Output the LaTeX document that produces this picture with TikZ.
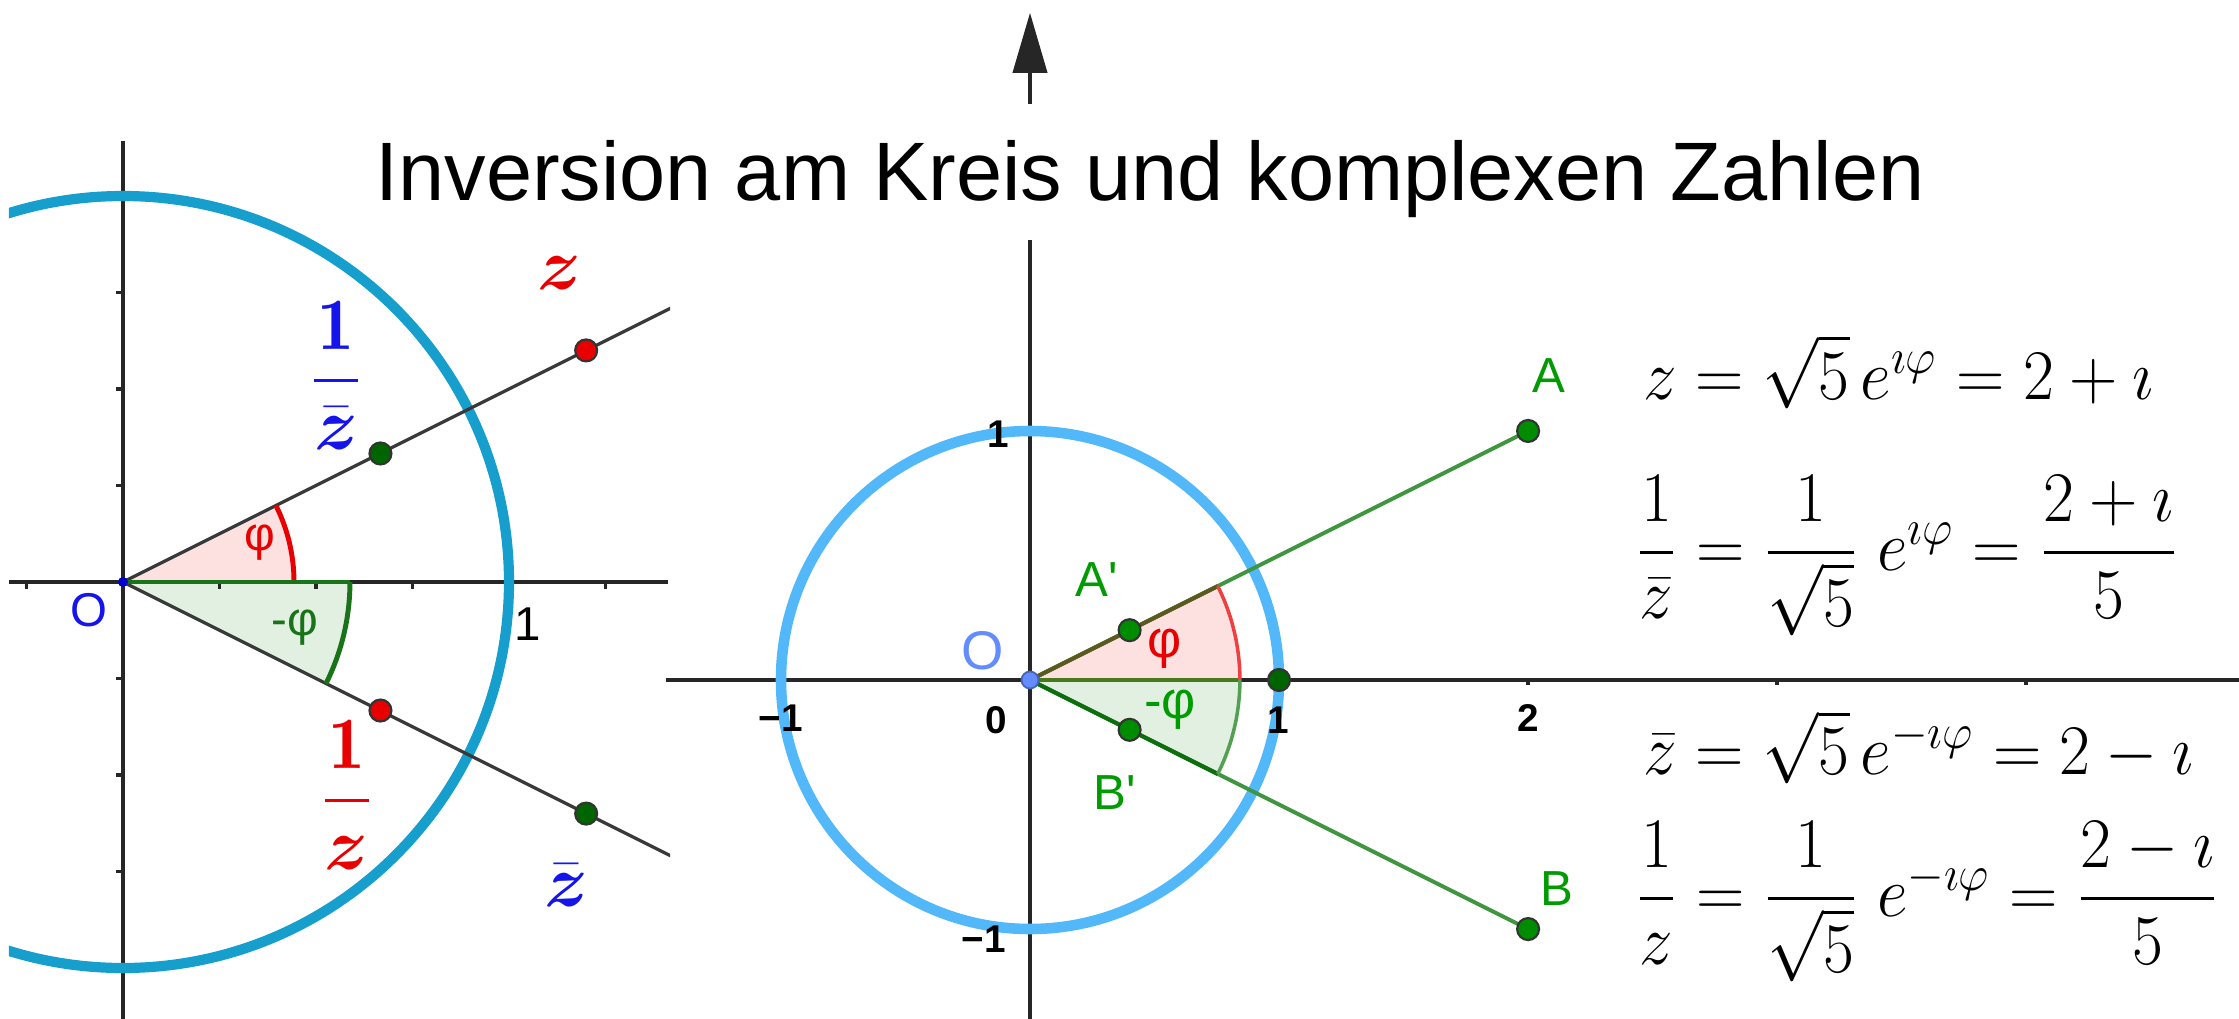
\documentclass[tikz,border=0pt]{standalone}
\definecolor{circteal}{RGB}{22, 158, 204}
\definecolor{circsky}{RGB}{82, 184, 250}
\definecolor{ptred}{RGB}{232, 0, 0}
\definecolor{ptdark}{RGB}{0, 100, 0}
\definecolor{ptgreen}{RGB}{0, 140, 0}
\definecolor{seggreen}{RGB}{64, 150, 64}
\definecolor{lblgreen}{RGB}{0, 155, 0}
\definecolor{lblblue}{RGB}{20, 20, 235}
\definecolor{oblue}{RGB}{100, 140, 255}
\definecolor{pinkfill}{RGB}{253, 225, 225}
\definecolor{mintfill}{RGB}{226, 240, 226}
\definecolor{olive}{RGB}{90, 90, 30}
\usepackage{fix-cm}
\usepackage{fontspec}
\usepackage{amsmath, amssymb}
\usepackage{graphicx}
\usepackage{tikz}
\usetikzlibrary{arrows.meta}
\newfontfamily\arial{Liberation Sans}
\tikzset{
    axisline/.style={draw=black!85, line width=1.1pt},
    tickmark/.style={draw=black!85, line width=0.9pt},
    invcircle/.style={draw=circteal, line width=2.9pt},
    unitcircle/.style={draw=circsky, line width=3pt},
    rayline/.style={draw=black!78, line width=0.9pt},
    segline/.style={draw=seggreen, line width=1.1pt},
    redarc/.style={draw=ptred, line width=1.4pt},
    greenarc/.style={draw=ptdark!90, line width=1.4pt},
    ptdot/.style={circle, draw=black!80, line width=0.6pt, inner sep=0pt, minimum size=0.22cm},
    reddot/.style={ptdot, fill=ptred},
    darkdot/.style={ptdot, fill=ptdark},
    greendot/.style={ptdot, fill=ptgreen},
    lbl/.style={font=\arial\fontsize{13.5}{16}\selectfont, inner sep=0pt},
    biglbl/.style={font=\arial\fontsize{14}{17}\selectfont, inner sep=0pt, text=lblgreen},
    ticklbl/.style={font=\arial\bfseries\fontsize{11}{13}\selectfont, inner sep=0pt},
    fraclbl/.style={font=\fontsize{21}{25}\selectfont, inner sep=0pt},
    formula/.style={anchor=base west, inner sep=0pt, font=\fontsize{19.1}{23}\selectfont},
    titlelbl/.style={anchor=base, fill=white, font=\arial\fontsize{23.6}{28}\selectfont, text height=0.96cm, text depth=0.40cm, inner xsep=0.1cm, inner ysep=0pt},
}
\begin{document}
\begin{tikzpicture}
    \useasboundingbox[fill=white] (0,0) rectangle (22.39,-10.19);

    % left panel: inversion at the circle
    \begin{scope}
        \clip (0.09,-1.0) rectangle (6.70,-10.19);
        \begin{scope}[shift={(1.23,-5.82)}, scale=3.86]
            \coordinate (OL) at (0,0);
            \coordinate (zL) at (1.2,0.6);
            \coordinate (izbL) at (0.667,0.333);
            \coordinate (izL) at (0.667,-0.333);
            \coordinate (zbL) at (1.2,-0.6);
            \coordinate (rayU) at (1.42,0.71);
            \coordinate (rayD) at (1.42,-0.71);
            % angle sectors
            \fill[pinkfill] (OL) -- (0.443,0) arc[start angle=0, end angle=26.57, radius=0.443] -- cycle;
            \fill[mintfill] (OL) -- (0.588,0) arc[start angle=0, end angle=-26.57, radius=0.588] -- cycle;
            % axes
            \draw[axisline] (-0.295,0) -- (1.412,0);
            \draw[axisline] (0,1.142) -- (0,-1.14);
            \foreach \t in {-0.25,0.25,0.5,0.75,1.25}
                \draw[tickmark] (\t,0) -- (\t,-0.018);
            \foreach \t in {-0.75,-0.5,-0.25,0.25,0.5,0.75}
                \draw[tickmark] (0,\t) -- (-0.018,\t);
            \draw[invcircle] (OL) circle[radius=1];
            % rays
            \draw[rayline] (OL) -- (rayU);
            \draw[rayline] (OL) -- (rayD);
            \draw[redarc] (0.443,0) arc[start angle=0, end angle=26.57, radius=0.443];
            \draw[greenarc] (0.588,0) arc[start angle=0, end angle=-26.57, radius=0.588];
            \draw[greenarc] (OL) -- (0.588,0);
            % points
            \node[circle, fill=blue!80!black, inner sep=0pt, minimum size=0.1cm] (pOL) at (OL) {};
            \node[reddot] (pzL) at (zL) {};
            \node[darkdot] (pizbL) at (izbL) {};
            \node[reddot] (pizL) at (izL) {};
            \node[darkdot] (pzbL) at (zbL) {};
            % labels
            \node[lbl, text=lblblue] (lOL) at (-0.088,-0.073) {O};
            \node[lbl] (lone) at (1.049,-0.110) {1};
            \node[lbl, text=ptred] (lphiL) at (0.355,0.102) {φ};
            \node[lbl, text=ptdark!90] (lmphiL) at (0.446,-0.118) {-φ};
            \node[fraclbl, text=ptred] (lzL) at (1.131,0.801) {$\boldsymbol{z}$};
            \node[fraclbl, text=lblblue] (lizbL) at (0.552,0.535) {$\dfrac{\mathbf{1}}{\bar{\boldsymbol{z}}}$};
            \node[fraclbl, text=ptred] (lizL) at (0.580,-0.551) {$\dfrac{\mathbf{1}}{\boldsymbol{z}}$};
            \node[fraclbl, text=lblblue] (lzbL) at (1.148,-0.786) {$\bar{\boldsymbol{z}}$};
        \end{scope}
    \end{scope}

    % right panel: complex plane
    \begin{scope}[shift={(10.30,-6.80)}, scale=2.49]
        \coordinate (OM) at (0,0);
        \coordinate (A) at (2,1);
        \coordinate (B) at (2,-1);
        \coordinate (Ap) at (0.4,0.2);
        \coordinate (Bp) at (0.4,-0.2);
        \coordinate (E) at (1,0);
        \coordinate (xL) at (-1.462,0);
        \coordinate (xR) at (4.855,0);
        \coordinate (yB) at (0,-1.361);
        \coordinate (yT) at (0,2.679);
        % angle sectors
        \fill[pinkfill] (OM) -- (0.843,0) arc[start angle=0, end angle=26.57, radius=0.843] -- cycle;
        \fill[mintfill] (OM) -- (0.843,0) arc[start angle=0, end angle=-26.57, radius=0.843] -- cycle;
        % axes
        \draw[axisline] (xL) -- (xR);
        \draw[axisline, -{Triangle[length=0.6cm, width=0.34cm]}] (yB) -- (yT);
        \foreach \t in {-1,1,2,3,4}
            \draw[tickmark] (\t,0) -- (\t,-0.02);
        \foreach \t in {-1,1}
            \draw[tickmark] (0,\t) -- (-0.02,\t);
        \draw[unitcircle] (OM) circle[radius=1];
        % segments
        \draw[segline] (OM) -- (A);
        \draw[segline] (OM) -- (B);
        \draw[draw=olive, line width=1.2pt] (OM) -- (26.57:0.843);
        \draw[draw=olive!80!green, line width=1.2pt] (OM) -- (0.843,0);
        \draw[draw=ptdark!80!seggreen, line width=1.2pt] (OM) -- (-26.57:0.843);
        \draw[draw=ptred!75, line width=1pt] (0.843,0) arc[start angle=0, end angle=26.57, radius=0.843];
        \draw[draw=seggreen!90, line width=1pt] (0.843,0) arc[start angle=0, end angle=-26.57, radius=0.843];
        % points
        \node[circle, draw=oblue!70!black, line width=0.5pt, fill=oblue, inner sep=0pt, minimum size=0.17cm] (pOM) at (OM) {};
        \node[greendot] (pA) at (A) {};
        \node[greendot] (pB) at (B) {};
        \node[greendot] (pAp) at (Ap) {};
        \node[greendot] (pBp) at (Bp) {};
        \node[darkdot] (pE) at (E) {};
        % labels
        \node[biglbl] (lA) at (2.084,1.222) {A};
        \node[biglbl] (lB) at (2.118,-0.839) {B};
        \node[biglbl] (lAp) at (0.268,0.402) {A\textquotesingle};
        \node[biglbl] (lBp) at (0.341,-0.454) {B\textquotesingle};
        \node[biglbl, text=ptred, font=\arial\fontsize{15}{18}\selectfont] (lphiM) at (0.542,0.127) {φ};
        \node[biglbl, font=\arial\fontsize{15}{18}\selectfont] (lmphiM) at (0.562,-0.120) {-φ};
        \node[lbl, text=oblue, font=\arial\fontsize{15.5}{18}\selectfont] (lOM) at (-0.190,0.116) {O};
        \node[ticklbl] (tx0) at (-0.134,-0.161) {0};
        \node[ticklbl] (tx1) at (0.996,-0.161) {1};
        \node[ticklbl] (tx2) at (2.00,-0.153) {2};
        \node[ticklbl] (txm1) at (-1.0,-0.153) {−1};
        \node[ticklbl] (ty1) at (-0.126,0.988) {1};
        \node[ticklbl] (tym1) at (-0.186,-1.040) {−1};
    \end{scope}

    % title
    \node[titlelbl] (title) at (11.50,-2.00) {Inversion am Kreis und komplexen Zahlen};

    % formulas
    \node[formula] (f1) at (16.43,-3.99) {\scalebox{1}[1.06]{$z = \sqrt{5}\,e^{\imath\varphi} = 2 + \imath$}};
    \node[formula] (f2) at (16.35,-5.70) {\scalebox{1}[1.06]{$\dfrac{1}{\bar{z}} = \dfrac{1}{\sqrt{5}}\;e^{\imath\varphi} = \dfrac{2 + \imath}{5}$}};
    \node[formula] (f3) at (16.43,-7.745) {\scalebox{1}[1.06]{$\bar{z} = \sqrt{5}\,e^{-\imath\varphi} = 2 - \imath$}};
    \node[formula] (f4) at (16.35,-9.16) {\scalebox{1}[1.06]{$\dfrac{1}{z} = \dfrac{1}{\sqrt{5}}\;e^{-\imath\varphi} = \dfrac{2 - \imath}{5}$}};
\end{tikzpicture}
\end{document}
